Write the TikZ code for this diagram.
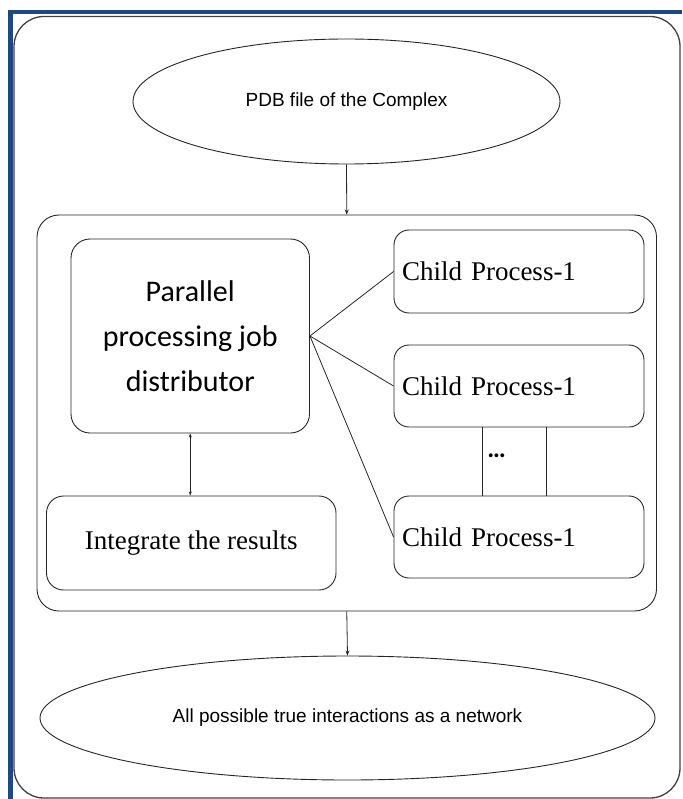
\documentclass[tikz,border=0pt]{standalone}
\usepackage{fontspec}
\setmainfont{Liberation Serif}
\newfontfamily\arialf{Liberation Sans}
\newfontfamily\calibrif{Carlito}
\usetikzlibrary{arrows.meta,shapes.geometric}
\definecolor{frameblue}{RGB}{31,73,125}
\begin{document}
\begin{tikzpicture}[x=1pt,y=-1pt,
  line width=0.9pt,
  ell/.style={draw=black!85, ellipse, inner sep=0pt, font=\arialf\fontsize{19}{23}\selectfont},
  rbox/.style={draw=black!85, rectangle, rounded corners=19pt, inner sep=0pt},
  childbox/.style={draw=black!85, rectangle, rounded corners=15pt, minimum width=250pt, minimum height=82pt, text width=234pt, inner xsep=8pt, inner ysep=0pt, align=left, font=\fontsize{27}{31}\selectfont},
  conn/.style={draw=black!85, line width=0.8pt},
  arr/.style={conn, -{Stealth[length=5pt,width=4pt]}},
  darr/.style={conn, {Stealth[length=4pt,width=3pt]}-{Stealth[length=4pt,width=3pt]}}
]
\useasboundingbox (0,0) rectangle (682,799);
% blue frame (top and left bands)
\fill[frameblue] (8,10) rectangle (682,14.5);
\fill[frameblue] (8,10) rectangle (12.5,799);
% outer rounded frame
\draw[draw=black!75, line width=1.3pt, rounded corners=30pt] (14,16.5) rectangle (680,798);

\node[ell, minimum width=427pt, minimum height=125pt] (top) at (346.5,101.5) {PDB file of the Complex};

\node[rbox, rounded corners=22pt, minimum width=619.5pt, minimum height=396pt] (inner) at (346.75,413) {};

\node[rbox, minimum width=238.5pt, minimum height=194pt, align=center,
      font=\calibrif\fontsize{30}{45}\selectfont] (dist) at (190.25,336)
      {Parallel\\processing job\\distributor};

\node[childbox, minimum height=83pt] (c1) at (519,271.5) {Child Process-1};
\node[childbox] (c2) at (519,386) {Child Process-1};
\node[childbox] (c3) at (519,537) {Child Process-1};

\node[rbox, rounded corners=17pt, minimum width=289.5pt, minimum height=94pt,
      font=\fontsize{27}{31}\selectfont] (integ) at (191.25,543) {Integrate the results};

\node[ell, minimum width=615pt, minimum height=124pt] (bot) at (347.5,718) {All possible true interactions as a network};

% connectors
\draw[arr] (top.south) -- (inner.north);
\draw[arr] (inner.south) -- (bot.north);
\draw[conn] (dist.east) -- (c1.west);
\draw[conn] (dist.east) -- (c2.west);
\draw[conn] (dist.east) -- (c3.west);
\draw[darr] (dist.south) -- (dist.south |- integ.north);

% ellipsis between child boxes
\coordinate (vl) at (482,0);
\coordinate (vr) at (546,0);
\draw[conn] (c2.south -| vl) -- (c3.north -| vl);
\draw[conn] (c2.south -| vr) -- (c3.north -| vr);
\node[font=\calibrif\bfseries\fontsize{26}{30}\selectfont, inner sep=0pt] (dots) at (496.5,456) {\ldots};
\end{tikzpicture}
\end{document}
